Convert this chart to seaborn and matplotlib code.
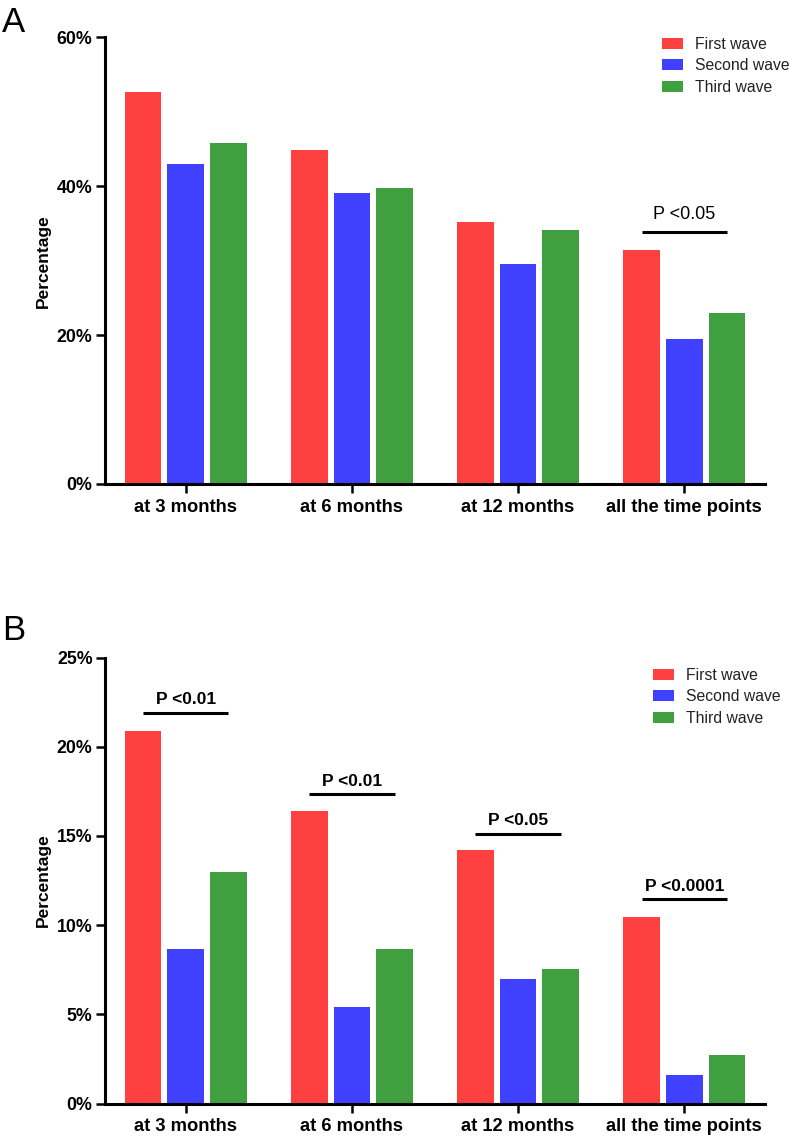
import numpy as np
import pandas as pd
import matplotlib
matplotlib.use("Agg")
import matplotlib.pyplot as plt
import seaborn as sns

categories = ["at 3 months", "at 6 months", "at 12 months", "all the time points"]
waves = ["First wave", "Second wave", "Third wave"]

a_first = [52.6, 44.9, 35.2, 31.4]
a_second = [43.0, 39.1, 29.5, 19.5]
a_third = [45.8, 39.7, 34.1, 23.0]

b_first = [20.9, 16.4, 14.2, 10.45]
b_second = [8.65, 5.4, 7.0, 1.6]
b_third = [12.95, 8.65, 7.55, 2.7]

a_yticks = [0, 20, 40, 60]
b_yticks = [0, 5, 10, 15, 20, 25]

a_sig_labels = [None, None, None, "P <0.05"]
a_sig_heights = [None, None, None, 33.9]
b_sig_labels = ["P <0.01", "P <0.01", "P <0.05", "P <0.0001"]
b_sig_heights = [21.9, 17.35, 15.13, 11.47]

colors = ["#FF4040", "#4040FF", "#40A040"]

sns.set_theme(style="white")
plt.rcParams["font.family"] = ["Liberation Sans", "DejaVu Sans"]
plt.rcParams["text.color"] = "black"
plt.rcParams["axes.labelcolor"] = "black"


def long_df(first, second, third):
    rows = []
    for w, vals in zip(waves, [first, second, third]):
        for c, v in zip(categories, vals):
            rows.append({"Category": c, "Wave": w, "Value": v})
    return pd.DataFrame(rows)


fig = plt.figure(figsize=(7.89, 11.36), dpi=100)
L, R = 105 / 789, 765 / 789
H = 1136
axA = fig.add_axes([L, 1 - 484 / H, R - L, (484 - 37.3) / H])
axB = fig.add_axes([L, 1 - 1103.5 / H, R - L, (1103.5 - 657.5) / H])


def draw(ax, df, ymax, yticks, sig_labels, sig_heights, sig_bold, sig_gap, leg_xy):
    sns.barplot(data=df, x="Category", y="Value", hue="Wave", palette=colors,
                width=0.77, gap=0.14, saturation=1, errorbar=None, ax=ax,
                edgecolor="none")
    ax.set_xlim(-0.485, 3.485)
    ax.set_ylim(0, ymax)
    ax.set_yticks(yticks)
    ax.set_yticklabels([f"{t}%" for t in yticks], fontsize=12.8, fontweight="bold")
    ax.set_xticks(range(len(categories)))
    ax.set_xticklabels(categories, fontsize=13.2, fontweight="bold")
    ax.set_xlabel("")
    ax.set_ylabel("Percentage", fontsize=12.5, fontweight="bold", labelpad=4,
                  color="black")
    for s in ["top", "right"]:
        ax.spines[s].set_visible(False)
    for s in ["left", "bottom"]:
        ax.spines[s].set_linewidth(2.2)
        ax.spines[s].set_color("black")
    ax.tick_params(axis="both", direction="out", length=6.5, width=1.8,
                   color="black", labelcolor="black", pad=2.5,
                   bottom=True, left=True)
    ax.tick_params(axis="x", pad=4)
    # significance bars
    for i, (lab, h) in enumerate(zip(sig_labels, sig_heights)):
        if lab is None:
            continue
        r = ax.containers[0][i]
        g = ax.containers[2][i]
        x0 = r.get_x() + r.get_width() / 2
        x1 = g.get_x() + g.get_width() / 2
        ax.plot([x0, x1], [h, h], color="black", lw=2.2, solid_capstyle="butt",
                clip_on=False)
        ax.annotate(lab, xy=((x0 + x1) / 2, h), xytext=(0, sig_gap),
                    textcoords="offset points", ha="center", va="baseline",
                    fontsize=12.5 if sig_bold else 13,
                    fontweight="bold" if sig_bold else "normal",
                    color="black")
    handles, labels = ax.get_legend_handles_labels()
    ax.legend(handles, labels, frameon=False, loc="upper left",
              bbox_to_anchor=leg_xy, bbox_transform=fig.transFigure,
              fontsize=11.3, handlelength=1.35, handleheight=0.7,
              handletextpad=0.75, labelspacing=0.4, borderpad=0,
              borderaxespad=0, labelcolor="#222222")


draw(axA, long_df(a_first, a_second, a_third), 60, a_yticks,
     a_sig_labels, a_sig_heights, False, 9, (662 / 789, 1 - 37 / H))
draw(axB, long_df(b_first, b_second, b_third), 25, b_yticks,
     b_sig_labels, b_sig_heights, True, 6, (653 / 789, 1 - 668 / H))

fig.text(2 / 789, 1 - 32 / H, "A", fontsize=25, va="baseline", ha="left",
         color="black")
fig.text(2 / 789, 1 - 640 / H, "B", fontsize=25, va="baseline", ha="left",
         color="black")

fig.savefig("out.png", dpi=100)
